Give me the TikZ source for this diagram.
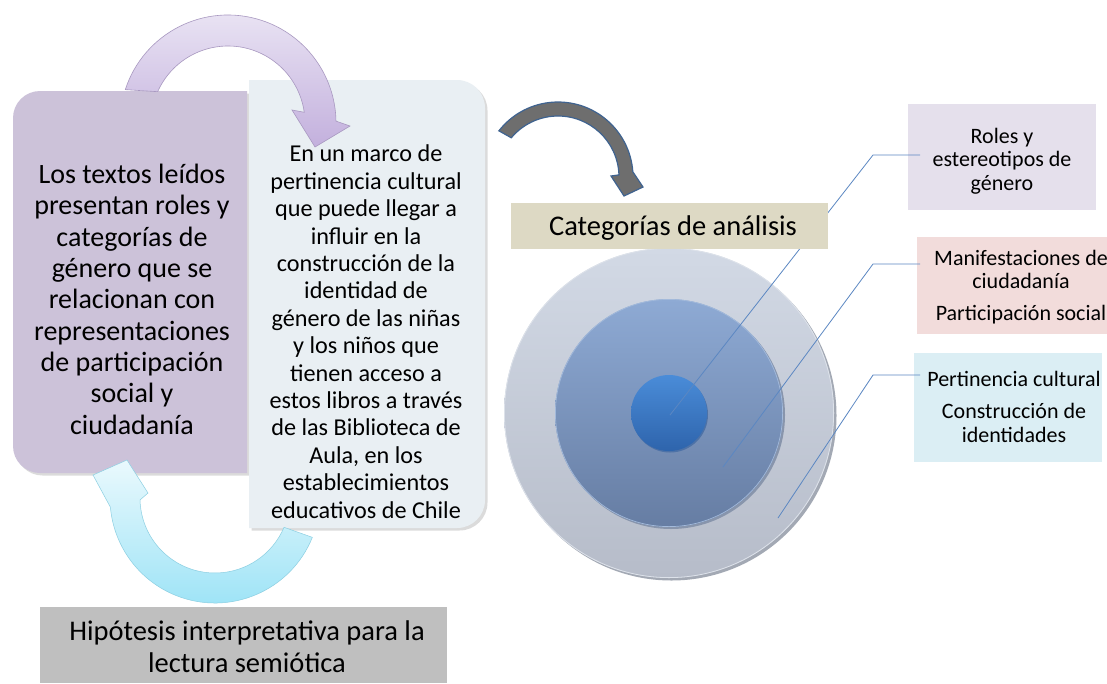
\documentclass[tikz,border=0pt]{standalone}
\usepackage{fontspec}
\setmainfont{Carlito}
\usetikzlibrary{shadows,calc}
\definecolor{leftc}{HTML}{CCC2D9}
\definecolor{midc}{HTML}{E9EFF3}
\definecolor{catc}{HTML}{DDD9C4}
\definecolor{rolesc}{HTML}{E5E0EC}
\definecolor{manifc}{HTML}{F2DCDB}
\definecolor{pertc}{HTML}{DBEEF4}
\definecolor{hipc}{HTML}{BFBFBF}
\definecolor{outerT}{HTML}{D2D9E5}
\definecolor{outerB}{HTML}{B6BCC9}
\definecolor{outerE}{HTML}{DDE2EA}
\definecolor{midT}{HTML}{8EAAD4}
\definecolor{midB}{HTML}{667DA3}
\definecolor{midE}{HTML}{A3BADB}
\definecolor{innT}{HTML}{4A8CD8}
\definecolor{innB}{HTML}{2E64AC}
\definecolor{linec}{HTML}{5B87C2}
\definecolor{purT}{HTML}{ECE7F5}
\definecolor{purB}{HTML}{C3B0DD}
\definecolor{purE}{HTML}{A898C0}
\definecolor{cyaT}{HTML}{EAF9FD}
\definecolor{cyaB}{HTML}{98E2F6}
\definecolor{cyaE}{HTML}{8CCFE2}
\definecolor{grayA}{HTML}{6E6E6E}
\definecolor{grayE}{HTML}{3F6390}
\definecolor{shadc}{HTML}{A3A9B4}
\tikzset{
  txt/.style={inner sep=0pt, align=center, anchor=base, text=black},
  bigtxt/.style={txt, font=\fontsize{28}{31.3}\selectfont},
  midtxt/.style={txt, font=\fontsize{24.2}{27.4}\selectfont},
  smalltxt/.style={txt, font=\fontsize{22}{23.5}\selectfont},
  softshadow/.style={drop shadow={opacity=0.28, shadow xshift=2.5pt, shadow yshift=-2.5pt}},
  callout/.style={draw=linec, line width=0.8pt},
}
\begin{document}
\begin{tikzpicture}[x=1pt,y=-1pt]
\useasboundingbox (0,0) rectangle (1107,683);
\fill[white] (0,0) rectangle (1107,683);

% left box
\fill[leftc, softshadow] (247,91) -- (40,91) arc[start angle=-90, end angle=-180, radius=27]
  -- (13,446) arc[start angle=180, end angle=90, radius=27] -- (247,473) -- cycle;
% middle box
\fill[midc, softshadow] (249,80) -- (457,80) arc[start angle=-90, end angle=0, radius=28]
  -- (485,500) arc[start angle=0, end angle=90, radius=28] -- (249,528) -- cycle;

% (multi-line nodes: base anchor = baseline of the last line)
\node[bigtxt] (lefttxt) at (132,434) {Los textos leídos\\presentan roles y\\categorías de\\género que se\\relacionan con\\representaciones\\de participación\\social y\\ciudadanía};
\node[midtxt] (midtxt) at (366,518) {En un marco de\\pertinencia cultural\\que puede llegar a\\influir en la\\construcción de la\\identidad de\\género de las niñas\\y los niños que\\tienen acceso a\\estos libros a través\\de las Biblioteca de\\Aula, en los\\establecimientos\\educativos de Chile};

% purple curved arrow (top)
\shade[top color=purT, bottom color=purB, draw=purE, line width=0.6pt]
  ($(228,123)+(198:108)$) arc[start angle=198, end angle=359, radius=108]
  -- (350,126) -- (315,147) -- (292,110) -- ($(228,123)+(352:77)$)
  arc[start angle=352, end angle=204, radius=77] -- cycle;

% cyan curved arrow (bottom)
\shade[top color=cyaT, bottom color=cyaB, draw=cyaE, line width=0.5pt]
  ($(215,498)+(22:105)$) arc[start angle=22, end angle=175, radius=105]
  -- (93,475) -- (127,460) -- (148,493) -- ($(215,498)+(178.5:75)$)
  arc[start angle=178.5, end angle=23, radius=75] -- cycle;

% hypothesis box
\fill[hipc] (40,607) rectangle (447,683);
\node[bigtxt, font=\fontsize{28.5}{32}\selectfont] (hiptxt) at (247,672) {Hipótesis interpretativa para la\\lectura semiótica};

% gray arrow
\filldraw[fill=grayA, draw=grayE, line width=1.2pt]
  ($(558,177)+(218:75)$) arc[start angle=218, end angle=356, radius=75]
  -- (643,187) -- (624,196) -- (611,176) -- ($(558,177)+(358:61)$)
  arc[start angle=358, end angle=220, radius=61] -- cycle;

% concentric circles
\fill[shadc] (671.5,415.5) circle[radius=165];
\shade[top color=outerT, bottom color=outerB] (669,413) circle[radius=165];
\draw[outerE, line width=0.8pt] (669,413) circle[radius=164.6];
\fill[shadc!55!midB] (671,415) circle[radius=114];
\shade[top color=midT, bottom color=midB] (669,413) circle[radius=114];
\draw[midE, line width=0.7pt] (669,413) circle[radius=113.6];
\fill[innB!45!midB] (670,414.5) circle[radius=38];
\shade[top color=innT, bottom color=innB] (669,413) circle[radius=38];

\coordinate (p1) at (670,415);
\coordinate (p2) at (723,467);
\coordinate (p3) at (778,518);

% right boxes
\fill[rolesc] (908,104) rectangle (1096,210);
\fill[manifc] (917,237) rectangle (1107,334);
\fill[pertc] (914,353) rectangle (1102,462);
\coordinate (r1) at (920,155);
\coordinate (r2) at (920,264);
\coordinate (r3) at (920,375);

\node[smalltxt] (rolestxt) at (1002,190) {Roles y\\estereotipos de\\género};
\node[smalltxt] (maniftxt) at (1021,320) {Manifestaciones de\\ciudadanía\\[8pt]Participación social};
\node[smalltxt] (perttxt) at (1014,442) {Pertinencia cultural\\[8.5pt]Construcción de\\identidades};

% callout lines
\draw[callout] (p1) -- (873,155) -- (r1);
\draw[callout] (p2) -- (873,264) -- (r2);
\draw[callout] (p3) -- (873,375) -- (r3);

% categories box
\fill[catc] (511,203) rectangle (828,249);
\node[txt, font=\fontsize{28.5}{32}\selectfont] (cattxt) at (673,235) {Categorías de análisis};
\end{tikzpicture}
\end{document}
